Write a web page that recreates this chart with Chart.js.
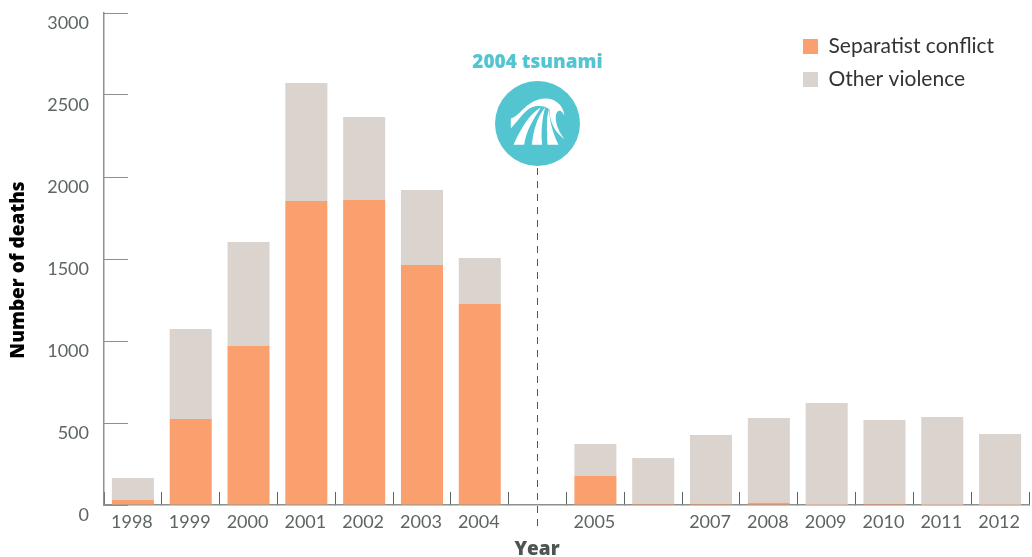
<!DOCTYPE html>
<html>
<head>
<meta charset="utf-8">
<title>Deaths by year</title>
<script src="https://cdn.jsdelivr.net/npm/chart.js@4/dist/chart.umd.min.js"></script>
<style>
  html, body { margin: 0; padding: 0; background: #fff; }
  canvas { display: block; }
</style>
</head>
<body>
<canvas id="deathsChart" width="1032" height="557"></canvas>
<script>
// Data. The empty slot holds the tsunami line, 2006 has no label in the original
const categories = ['1998', '1999', '2000', '2001', '2002', '2003', '2004', '', '2005', '', '2007', '2008', '2009', '2010', '2011', '2012'];
const separatist = [30, 524, 970, 1854, 1860, 1463, 1226, null, 177, 8, 8, 14, 2, 8, 2, 2];
const otherViolence = [135, 549, 634, 719, 506, 458, 280, null, 195, 279, 419, 516, 620, 510, 535, 431];
const yTicks = [0, 500, 1000, 1500, 2000, 2500, 3000];
const tsunamiSlot = 7;

const fontName = 'Lato';
const titleFont = '"Open Sans"';
const tickColor = '#5d6563';
const axisColor = '#8a918f';
const tsunamiColor = '#53c5d1';

// Wave glyph, traced in a 3x crop around the circle
function drawWave(ctx, cx, cy) {
  const shapes = [
    'M182 266 C210 258 222 222 265 209 C300 198 338 215 343 258 C336 243 326 238 320 248 C312 262 318 296 343 328 C318 312 298 280 298 240 C290 228 262 225 245 232 C225 240 210 265 182 296 Z',
    'M190 345 C210 300 235 255 272 232 C250 270 228 300 222 345 Z',
    'M245 345 C250 300 262 260 285 232 C275 270 272 310 276 345 Z',
    'M292 345 C290 300 288 265 296 240 C300 280 308 310 325 345 Z'
  ];
  ctx.save();
  ctx.translate(cx, cy);
  ctx.scale(1 / 3, 1 / 3);
  ctx.translate(-262, -281);
  ctx.fillStyle = '#fff';
  shapes.forEach((d) => ctx.fill(new Path2D(d)));
  ctx.restore();
}

// Tick padding leaks into the layout margins, so clear it once the axis is fitted
function clearPadding(scale) {
  scale.paddingTop = 0;
  scale.paddingBottom = 0;
  scale.paddingLeft = 0;
  scale.paddingRight = 0;
}

// Tsunami marker and the two axis titles, which sit off centre in the original
const annotations = {
  id: 'annotations',
  afterLayout(chart) {
    const legend = chart.legend;
    legend.left = 791;
    legend.right = 1030;
    legend.top = 24;
    legend.bottom = 200;
  },
  afterDraw(chart) {
    const ctx = chart.ctx;
    const x = Math.floor(chart.scales.x.getPixelForValue(tsunamiSlot)) + 0.5;
    const cy = 123.5;

    ctx.save();
    ctx.strokeStyle = '#555';
    ctx.lineWidth = 1;
    ctx.setLineDash([7, 6]);
    ctx.beginPath();
    ctx.moveTo(x, 168);
    ctx.lineTo(x, 528);
    ctx.stroke();
    ctx.setLineDash([]);

    ctx.fillStyle = tsunamiColor;
    ctx.beginPath();
    ctx.arc(x, cy, 42.5, 0, Math.PI * 2);
    ctx.fill();
    drawWave(ctx, x, cy);

    ctx.fillStyle = tsunamiColor;
    ctx.textAlign = 'center';
    ctx.textBaseline = 'middle';
    ctx.font = `800 19px ${titleFont}`;
    ctx.fillText('2004 tsunami', x, 63);

    ctx.fillStyle = '#4d5553';
    ctx.fillText('Year', 537, 550);

    ctx.fillStyle = '#000';
    ctx.translate(19, 270);
    ctx.rotate(-Math.PI / 2);
    ctx.fillText('Number of deaths', 0, 0);
    ctx.restore();
  }
};

const ctx = document.getElementById('deathsChart').getContext('2d');
new Chart(ctx, {
  type: 'bar',
  data: {
    labels: categories,
    datasets: [
      { label: 'Separatist conflict', data: separatist, backgroundColor: '#fa9f6e' },
      { label: 'Other violence', data: otherViolence, backgroundColor: '#dbd3cd' }
    ]
  },
  options: {
    responsive: false,
    animation: false,
    layout: { padding: { top: 13, right: 3 } },
    datasets: { bar: { barPercentage: 0.727, categoryPercentage: 1 } },
    scales: {
      x: {
        stacked: true,
        afterFit: (scale) => { scale.height = 52; clearPadding(scale); },
        grid: {
          offset: true,
          drawOnChartArea: false,
          tickLength: -13,
          tickColor: '#5d6563',
          tickWidth: 1
        },
        border: { color: axisColor, width: 1.5 },
        ticks: {
          autoSkip: false,
          maxRotation: 0,
          padding: 19,
          labelOffset: -1,
          color: tickColor,
          font: { family: fontName, size: 18 }
        }
      },
      y: {
        stacked: true,
        min: 0,
        max: 3000,
        afterFit: (scale) => { scale.width = 104; clearPadding(scale); },
        afterBuildTicks: (scale) => { scale.ticks = yTicks.map((value) => ({ value })); },
        grid: {
          drawOnChartArea: false,
          tickLength: -24,
          tickColor: axisColor,
          tickWidth: 1
        },
        border: { color: axisColor, width: 1.5 },
        ticks: {
          padding: 39,
          labelOffset: 10,
          color: tickColor,
          font: { family: fontName, size: 18 },
          callback: (value) => String(value)
        }
      }
    },
    plugins: {
      legend: {
        position: 'chartArea',
        align: 'start',
        labels: {
          boxWidth: 15,
          boxHeight: 15,
          padding: 12,
          color: '#333',
          font: { family: fontName, size: 21 }
        }
      },
      tooltip: { enabled: false }
    }
  },
  plugins: [annotations]
});
</script>
</body>
</html>
